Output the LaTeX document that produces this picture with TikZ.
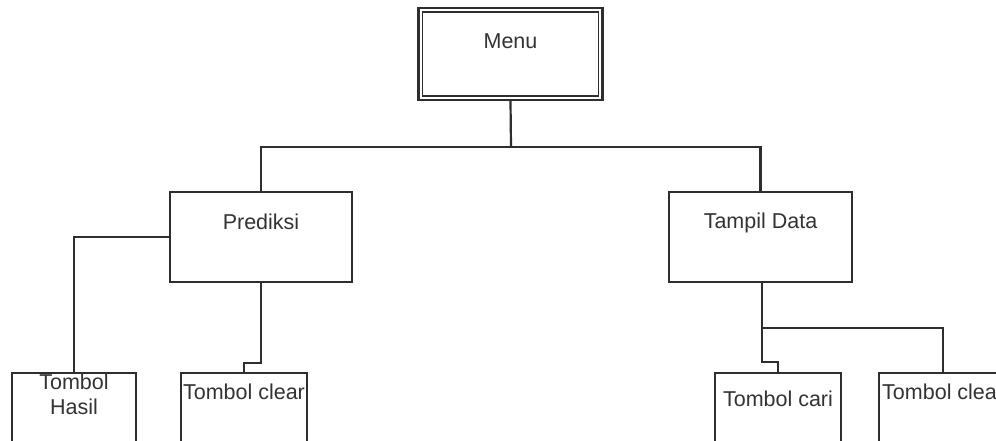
\documentclass[tikz,border=0pt]{standalone}
\usepackage{fontspec}
\setmainfont{Liberation Sans}
\definecolor{ln}{HTML}{2E2E2E}
\definecolor{tx}{HTML}{333333}
\begin{document}
\begin{tikzpicture}[x=1pt,y=-1pt,
  box/.style={draw=ln,line width=2.2pt,rectangle,inner sep=0pt},
  lbl/.style={text=tx,font=\fontsize{21.5}{24}\selectfont,inner sep=0pt,align=center},
  conn/.style={draw=ln,line width=2.2pt}]
\useasboundingbox (0,0) rectangle (996,441);
\clip (0,0) rectangle (996,441);
\fill[white] (0,0) rectangle (996,441);
% boxes
\node[box,minimum width=184pt,minimum height=92pt] (menu) at (510.5,54) {};
\node[draw=ln,line width=1.4pt,rectangle,inner sep=0pt,minimum width=176pt,minimum height=84pt] (menuin) at (510.5,54) {};
\node[box,minimum width=182pt,minimum height=90pt] (pred) at (261,237) {};
\node[box,minimum width=183pt,minimum height=90pt] (tamp) at (760.5,237) {};
\node[box,minimum width=124pt,minimum height=90pt] (hasil) at (74,418) {};
\node[box,minimum width=126pt,minimum height=90pt] (clearA) at (244,418) {};
\node[box,minimum width=126pt,minimum height=90pt] (cari) at (778,418) {};
\node[box,minimum width=128pt,minimum height=90pt] (clearB) at (943,418) {};
% labels
\node[lbl] (tmenu) at (510.5,41) {Menu};
\node[lbl] (tpred) at (261,222) {Prediksi};
\node[lbl] (ttamp) at (760.5,223) {Tampil Data};
\node[lbl,text width=124pt,font=\fontsize{21.5}{25}\selectfont] (thasil) at (74,394) {Tombol\\Hasil};
\node[lbl] (tclearA) at (244,392) {Tombol clear};
\node[lbl] (tcari) at (778,399) {Tombol cari};
\node[lbl,anchor=west] (tclearB) at (882,392) {Tombol clea};
% connectors
\coordinate (j1) at (511,147);
\coordinate (k1) at (244,363);
\coordinate (j2) at (762,328);
\coordinate (k2) at (778,362);
\draw[conn] (menu.south) -- (j1);
\draw[conn] (j1) -| (pred.north);
\draw[conn] (j1) -| (tamp.north);
\draw[conn] (pred.west) -| (hasil.north);
\draw[conn] (pred.south) |- (k1) -- (clearA.north);
\draw[conn] (tamp.south) -- (j2 |- tamp.south) -- (j2) -| (clearB.north);
\draw[conn] (j2) |- (k2) -- (cari.north);
\end{tikzpicture}
\end{document}
